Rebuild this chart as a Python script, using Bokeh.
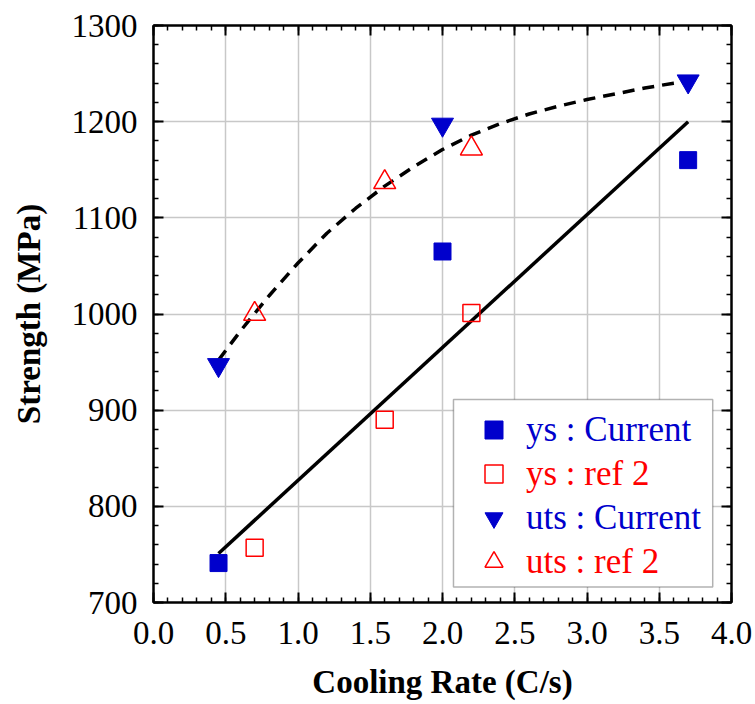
from bokeh.plotting import figure
from bokeh.models import (Range1d, LinearAxis, SingleIntervalTicker, Legend, LegendItem,
                          BoxAnnotation, NumeralTickFormatter, CustomLabelingPolicy)
from bokeh.embed import file_html
from bokeh.resources import INLINE

# ---- data ----
ys_cur_x = [0.45, 2.0, 3.7]
ys_cur_y = [741, 1065, 1160]
ys_ref_x = [0.7, 1.6, 2.2]
ys_ref_y = [757, 890, 1001]
uts_cur_x = [0.45, 2.0, 3.7]
uts_cur_y = [947, 1197, 1242]
uts_ref_x = [0.7, 1.6, 2.2]
uts_ref_y = [1000, 1137, 1172]
fit_ys_x = [0.45, 3.7]
fit_ys_y = [751, 1200]
fit_uts_x = [0.45, 0.6, 0.8, 1.0, 1.2, 1.4, 1.6, 1.8, 2.0, 2.2, 2.4, 2.6, 2.8, 3.0, 3.2, 3.4, 3.6, 3.7]
fit_uts_y = [952, 982, 1019, 1053, 1084, 1110, 1133, 1153, 1171, 1186, 1198, 1208, 1216, 1223, 1229, 1235, 1240, 1242]
legend_labels = ["ys : Current", "ys : ref 2", "uts : Current", "uts : ref 2"]

BLUE = "#0000CC"
RED = "#FF0000"
FONT = "Liberation Serif"

p = figure(frame_width=578, frame_height=577, output_backend="svg", toolbar_location=None,
           x_range=Range1d(0, 4), y_range=Range1d(700, 1300),
           min_border_left=153, min_border_right=5, min_border_top=25, min_border_bottom=80)
p.background_fill_color = "white"
p.border_fill_color = "white"
p.outline_line_color = "black"
p.outline_line_width = 2

xt = SingleIntervalTicker(interval=0.5, num_minor_ticks=5)
yt = SingleIntervalTicker(interval=100, num_minor_ticks=5)
p.xaxis.ticker = xt
p.yaxis.ticker = yt
p.xgrid.ticker = xt
p.ygrid.ticker = yt
p.xaxis.formatter = NumeralTickFormatter(format="0.0")
for g in (p.xgrid, p.ygrid):
    g.grid_line_color = "#c8c8c8"
    g.grid_line_width = 1.5

hide_labels = CustomLabelingPolicy(
    code="const all = [...indices]; for (const i of all) { indices.unset(i) }; return indices")

def style_axis(ax, labels=True):
    ax.axis_line_color = "black"
    ax.axis_line_width = 2
    ax.major_tick_in = 10
    ax.major_tick_out = 0
    ax.minor_tick_in = 5
    ax.minor_tick_out = 0
    ax.major_tick_line_color = "black"
    ax.major_tick_line_width = 2
    ax.minor_tick_line_color = "black"
    ax.minor_tick_line_width = 1.5
    if labels:
        ax.major_label_text_font = FONT
        ax.major_label_text_font_size = "33px"
        ax.major_label_text_color = "black"
        ax.axis_label_text_font = FONT
        ax.axis_label_text_font_size = "33px"
        ax.axis_label_text_font_style = "bold"
        ax.axis_label_text_color = "black"
    else:
        ax.major_label_policy = hide_labels
        ax.major_label_standoff = 0

style_axis(p.xaxis[0])
style_axis(p.yaxis[0])
p.xaxis.axis_label = "Cooling Rate (C/s)"
p.yaxis.axis_label = "Strength (MPa)"
p.xaxis.major_label_standoff = 19
p.yaxis.major_label_standoff = 16
p.xaxis.axis_label_standoff = 17
p.yaxis.axis_label_standoff = 22

top_ax = LinearAxis(ticker=SingleIntervalTicker(interval=0.5, num_minor_ticks=5))
right_ax = LinearAxis(ticker=SingleIntervalTicker(interval=100, num_minor_ticks=5))
style_axis(top_ax, labels=False)
style_axis(right_ax, labels=False)
p.add_layout(top_ax, "above")
p.add_layout(right_ax, "right")

# fits
p.line(fit_ys_x, fit_ys_y, line_color="black", line_width=3.5)
p.line(fit_uts_x, fit_uts_y, line_color="black", line_width=3.5, line_dash="12 8")

# data
r1 = p.scatter(ys_cur_x, ys_cur_y, marker="square", size=17, fill_color=BLUE, line_color=BLUE)
r2 = p.scatter(ys_ref_x, ys_ref_y, marker="square", size=17, fill_color=None, line_color=RED, line_width=1.5)
r3 = p.scatter(uts_cur_x, uts_cur_y, marker="inverted_triangle", size=22, fill_color=BLUE, line_color=BLUE)
r4 = p.scatter(uts_ref_x, uts_ref_y, marker="triangle", size=22, fill_color=None, line_color=RED, line_width=1.5)

# legend box
box = BoxAnnotation(left=2.076, right=3.87, bottom=716, top=911,
                    fill_color="white", fill_alpha=1.0, line_color="black", line_width=1.5)
p.add_layout(box)

renderers = [r1, r2, r3, r4]
colors = [BLUE, RED, BLUE, RED]
ys_loc = [150, 106, 62, 18]
for r, lab, c, yl in zip(renderers, legend_labels, colors, ys_loc):
    lg = Legend(items=[LegendItem(label=lab, renderers=[r])], location=(318, yl),
                background_fill_alpha=0, border_line_alpha=0, padding=0, margin=0,
                glyph_width=45, glyph_height=45, label_standoff=10,
                label_text_font=FONT, label_text_font_size="35px", label_text_color=c)
    p.add_layout(lg)

open("out.html", "w").write(file_html(p, INLINE))
